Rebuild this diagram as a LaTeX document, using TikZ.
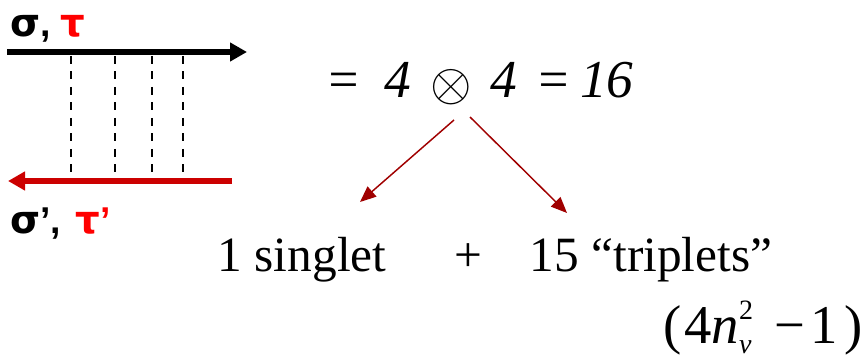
\documentclass[tikz,border=0pt]{standalone}
\usepackage{fontspec}
\setmainfont{Liberation Serif}
\newfontfamily\arialfont{Liberation Sans}
\newfontfamily\greekfont{DejaVu Sans}
\usetikzlibrary{arrows.meta}
\definecolor{thickred}{RGB}{204,0,0}
\definecolor{thinred}{RGB}{160,0,0}
\definecolor{labred}{RGB}{255,0,0}
\newcommand{\gk}[1]{{\greekfont\bfseries\fontsize{29}{34}\selectfont #1}}
\tikzset{
  bigarrow/.style={line width=4.5pt,-{Triangle[length=12.75pt,width=13.5pt]}},
  rung/.style={line width=1.1pt,dash pattern=on 6pt off 5.6pt},
  branch/.style={thinred,line width=1.1pt,-{Triangle[length=12pt,width=10pt]}},
  lbl/.style={inner sep=0pt,anchor=base west,font=\arialfont\bfseries\fontsize{28}{34}\selectfont},
  eqtxt/.style={inner sep=0pt,anchor=base west,font=\itshape\fontsize{40}{48}\selectfont},
  btxt/.style={inner sep=0pt,anchor=base west,font=\fontsize{37}{44}\selectfont}
}
\begin{document}
\begin{tikzpicture}[x=0.75pt,y=-0.75pt]
\useasboundingbox (0,0) rectangle (866,359);
% labels
\node[lbl] (top) at (10,37) {\gk{σ},\hspace{7pt}\textcolor{labred}{\gk{τ}}};
\node[lbl] (bot) at (10,234) {\gk{σ}’,\hspace{11pt}\textcolor{labred}{\gk{τ}’}};
% propagators
\coordinate (ts) at (7,52);
\coordinate (te) at (247,52);
\coordinate (bs) at (232,181);
\coordinate (be) at (8,181);
\draw[bigarrow,black] (ts) -- (te);
\draw[bigarrow,thickred] (bs) -- (be);
% rungs
\foreach \x [count=\i] in {71,115,152,183}{
  \coordinate (r\i a) at (\x,56);
  \coordinate (r\i b) at (\x,176);
  \draw[rung] (r\i a) -- (r\i b);
}
% equation
\node[eqtxt] (eqa) at (325,98) {=};
\node[eqtxt] (foura) at (384,98) {4};
\node[inner sep=0pt,anchor=center] (otimes) at (451.5,87.5) {\scalebox{4}{$\otimes$}};
\node[eqtxt] (fourb) at (490,98) {4};
\node[eqtxt] (eqb) at (535,98) {=};
\node[eqtxt] (sixteen) at (580,98) {16};
% branches
\coordinate (la) at (454,120);
\coordinate (lb) at (360,202);
\coordinate (ra) at (470,117);
\coordinate (rb) at (567,213);
\draw[branch] (la) -- (lb);
\draw[branch] (ra) -- (rb);
% bottom texts
\node[btxt] (singlet) at (217.5,272) {1 singlet};
\node[btxt] (plus) at (454,272) {+};
\node[btxt] (trip) at (529.5,272) {15 “triplets”};
\node[inner sep=0pt,anchor=base east,font=\fontsize{41}{49}\selectfont] (count) at (863,343)
  {(\hspace{2pt}4\textit{n}\makebox[0pt][l]{\raisebox{-8pt}{\fontsize{21}{25}\selectfont\textit{v}}}\raisebox{18pt}{\fontsize{21}{25}\selectfont 2}\hspace{16pt}−\hspace{4pt}1\hspace{5pt})};
\end{tikzpicture}
\end{document}
